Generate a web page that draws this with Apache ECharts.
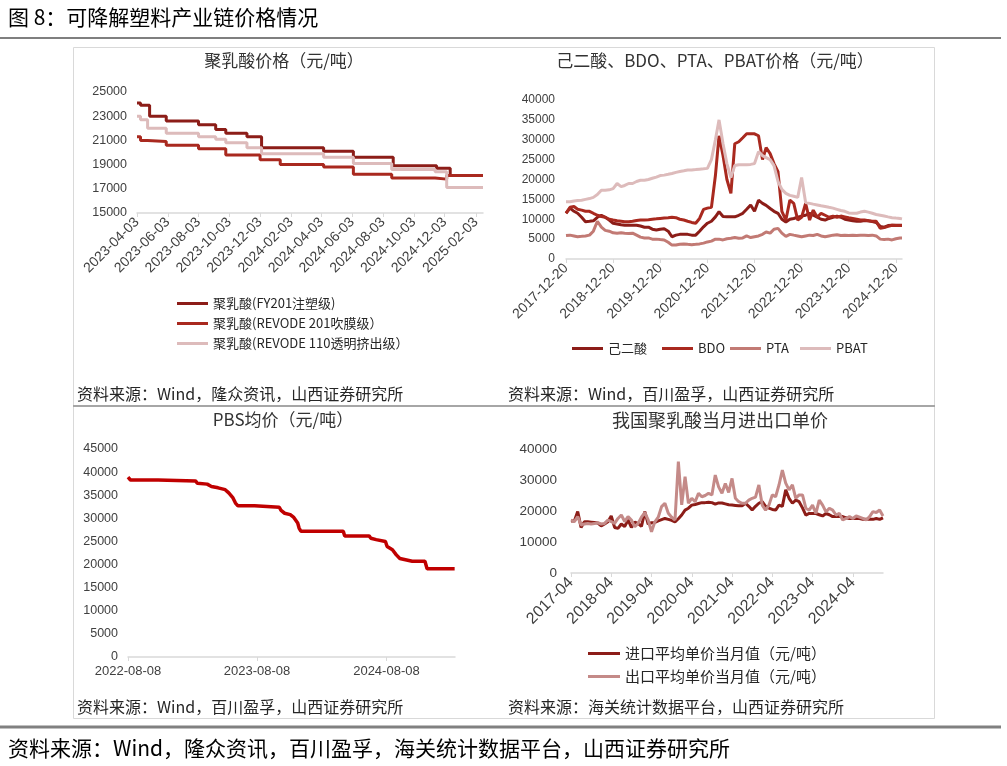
<!DOCTYPE html>
<html><head><meta charset="utf-8">
<script src="https://cdn.jsdelivr.net/npm/echarts@6/dist/echarts.min.js"></script>
<style>html,body{margin:0;padding:0;background:#fff;}#c{width:1007px;height:766px;}</style>
</head><body><div id="c"></div>
<script>
// ---------- Top-left: 聚乳酸价格 (step changes: date from which price applies) ----------
const tlFYDates = ['2023-04-03','2023-04-10','2023-04-28','2023-05-31','2023-08-03','2023-09-06','2023-09-26','2023-11-07','2023-12-06','2024-04-07','2024-06-05','2024-08-23','2024-11-17','2024-12-14','2025-02-17'];
const tlFYValues = [24100,23900,23000,22600,22300,21900,21600,21300,20400,20100,19600,18900,18700,18100,18100];
const tl201Dates = ['2023-04-03','2023-04-10','2023-04-24','2023-05-31','2023-08-03','2023-09-26','2023-12-03','2024-01-12','2024-04-07','2024-06-05','2024-08-20','2024-11-14','2024-12-07','2025-02-17'];
const tl201Values = [21300,21000,20900,20600,20300,19800,19400,19000,18800,18200,17900,17800,18100,18100];
const tl110Dates = ['2023-04-03','2023-04-10','2023-04-24','2023-05-31','2023-08-03','2023-09-06','2023-09-26','2023-11-07','2023-12-06','2024-04-07','2024-06-05','2024-08-20','2024-11-14','2024-12-07','2025-02-17'];
const tl110Values = [23000,22700,22000,21600,21300,21100,20800,20400,19900,19600,19100,18600,18400,17100,17100];
const tlTickDates = ['2023-04-03','2023-06-03','2023-08-03','2023-10-03','2023-12-03','2024-02-03','2024-04-03','2024-06-03','2024-08-03','2024-10-03','2024-12-03','2025-02-03'];
const tlNames = ['聚乳酸(FY201注塑级)','聚乳酸(REVODE 201吹膜级）','聚乳酸(REVODE 110透明挤出级）'];

// ---------- Top-right: 己二酸、BDO、PTA、PBAT (monthly, 2017-12 .. 2025-01, + 2025-02-05) ----------
const trDates = (function(){const a=['2017-12-20'];for(let y=2018;y<=2024;y++){for(let m=1;m<=12;m++){a.push(y+'-'+String(m).padStart(2,'0')+'-20');}}a.push('2025-01-20');a.push('2025-02-05');return a;})();
const trAdipic = [11500,
 12800,12000,11500,10500,9400,9500,9600,10500,11000,10500,9800,9000,
 8800,8600,8500,8500,8500,8500,8300,8000,8000,7500,7300,7500,
 7600,7000,5600,6000,6200,6200,6200,6000,6000,7000,8100,9000,
 9500,10600,11900,10700,10600,10600,10600,11000,11500,12500,13600,12000,
 14800,14000,13500,12700,12000,11500,10000,9300,10000,10200,10500,10800,
 11000,11500,11000,10500,10000,9800,10200,10500,10800,10500,10000,9800,
 9600,9500,9500,9700,9600,9400,9200,8200,8000,8400,8500,8500,
 8500,8500];
const trBDO = [11500,
 13000,13200,12500,12300,12000,12000,11500,11000,10700,10500,10000,9800,
 9600,9500,9400,9400,9500,9700,9800,9800,9900,10000,10100,10200,
 10300,10400,10500,10400,10000,9800,9500,9200,9000,10200,12500,12800,
 13000,21000,31000,26000,20000,16500,29000,29500,30500,31500,31500,31500,
 31000,25000,28000,26500,24000,22000,12000,9800,14800,14000,9800,10500,
 14000,9800,12300,10500,11500,11000,10500,10800,10500,10800,10600,10400,
 10200,10000,9800,9800,9600,9500,9500,7700,7900,8200,8500,8400,
 8400,8400];
const trPTA = [5900,
 6000,5800,5600,5700,5800,6000,7000,9500,8000,7200,7000,6600,
 6500,6600,6500,6400,6500,6000,5500,5300,5300,5000,5000,4900,
 4800,4200,3500,3500,3700,3800,3700,3600,3700,3800,4000,4300,
 4500,5000,5000,4800,5100,5200,5400,5200,5300,5800,5400,5600,
 5800,6200,6800,6500,7500,7700,6500,5700,6200,6000,5800,5600,
 5800,6000,5900,6200,5800,5600,5800,6000,6100,5900,6000,5900,
 6000,5900,6000,6000,5900,6000,5800,5000,4900,5000,4800,5100,
 5300,5300];
const trPBAT = [14400,
 14400,14600,14700,14800,15000,15200,15500,16200,17300,17300,17400,17700,
 19000,18200,18500,19000,19000,19500,19800,19800,20000,20300,20600,21000,
 21100,21300,21500,21800,22000,22200,22400,22400,22500,22600,22700,22800,
 25000,30000,35000,29000,24000,20500,23500,23700,23700,23700,23800,24000,
 27000,26000,25500,25000,23500,19500,17500,16500,16000,15800,15500,20500,
 14200,14000,13800,13600,13400,13200,13000,12800,12500,12200,12000,11600,
 11500,11500,11800,12000,11800,11500,11200,11000,10800,10600,10400,10300,
 10200,10100];
const trTickDates = ['2017-12-20','2018-12-20','2019-12-20','2020-12-20','2021-12-20','2022-12-20','2023-12-20','2024-12-20'];
const trNames = ['己二酸','BDO','PTA','PBAT'];

// ---------- Bottom-left: PBS均价 ----------
const blDates = ['2022-08-08','2022-08-15','2022-11-01','2022-11-05','2023-02-15','2023-02-20','2023-03-20','2023-04-01','2023-04-20','2023-05-10','2023-05-20','2023-06-01','2023-06-08','2023-06-15','2023-08-01','2023-08-05','2023-10-10','2023-10-15','2023-10-25','2023-11-10','2023-11-20','2023-12-01','2023-12-05','2023-12-10','2024-04-08','2024-04-12','2024-06-20','2024-06-25','2024-07-10','2024-08-05','2024-08-10','2024-08-25','2024-09-05','2024-09-15','2024-09-20','2024-10-20','2024-11-25','2024-12-01','2025-02-17'];
const blValues = [38900,38300,38300,38100,38100,37600,37400,36900,36600,36200,35500,34400,33300,32700,32700,32400,32400,31700,31100,30800,30200,29000,27900,27200,27200,26200,26200,25700,25400,25000,23900,23200,22100,21300,20900,20700,20700,19100,19100];
const blTickDates = ['2022-08-08','2023-08-08','2024-08-08'];

// ---------- Bottom-right: 我国聚乳酸当月进出口单价 (monthly 2017-04 .. 2025-01) ----------
const brMonths = (function(){const a=[];for(let y=2017;y<=2025;y++){for(let m=1;m<=12;m++){if(y===2017&&m<4)continue;if(y===2025&&m>1)break;a.push(y+'-'+String(m).padStart(2,'0'));}}return a;})();
const brImport = [16800,16800,19800,14700,16500,16500,16400,16300,16100,15200,15800,16500,
 18400,14700,14400,15800,15000,17100,14700,16400,16000,15000,19800,15800,
 16200,16300,16800,17200,17600,17300,17000,16500,17500,18700,20300,20900,
 21900,22100,22400,22700,22700,22800,22700,22200,22600,22600,22300,22000,
 21900,21800,21700,21700,22500,21500,20300,21500,22500,23000,21500,20900,
 20500,20300,21900,21500,26800,24100,22500,23500,23000,21000,18700,19200,
 19200,19200,18800,18400,19200,18800,18200,18200,18200,18200,17800,17600,
 17600,17600,17600,17300,17300,17300,17300,17600,17300,17800];
const brExport = [17100,16600,18200,15500,15800,16000,15800,16000,16200,15800,16000,17100,
 16600,16000,17600,18700,16600,18200,17100,14900,16000,18000,19500,17100,
 13300,16500,18000,21400,22500,19300,18000,17100,35900,22000,31100,22500,
 24100,23000,25700,24600,25000,25700,25200,31600,27800,25700,28900,26000,
 30500,24100,23000,22500,22500,23500,24100,24500,28400,21900,20300,21900,
 25200,24600,28400,33200,29000,26800,28400,24100,25200,25200,20900,20300,
 21900,19200,23500,21900,19700,20900,20300,18700,19200,17100,17600,18200,
 17600,18400,18000,17600,17100,18200,19800,19500,20300,18400];
const brNames = ['进口平均单价当月值（元/吨）','出口平均单价当月值（元/吨）'];

// ---------- colours ----------
const C_DARK = '#8C1D18', C_RED = '#A9291F', C_ROSE = '#C27A74', C_PINK = '#DDBBBB', C_PBS = '#C00000', C_EXP = '#C48A88';

const P = s => { const p = s.split('-').map(Number); return new Date(p[0], p[1] - 1, p[2]).getTime(); };
const pair = (d, v) => d.map((x, i) => [P(x), v[i]]);
const pad = n => String(n).padStart(2, '0');
const fmtDay = v => { const d = new Date(v); return d.getFullYear() + '-' + pad(d.getMonth() + 1) + '-' + pad(d.getDate()); };

const FONT = 'Liberation Sans, Arial, sans-serif';
const CJK = '"Noto Sans CJK SC", sans-serif';
const axisGray = '#D9D9D9';
const lbl = { color: '#404040', fontFamily: FONT };

function yAxis(grid, min, max, interval, size, margin) {
  return { type: 'value', gridIndex: grid, min, max, interval,
    axisLine: { show: false }, axisTick: { show: false }, splitLine: { show: false },
    axisLabel: Object.assign({ fontSize: size, margin, formatter: v => String(v) }, lbl) };
}
function dateAxis(grid, minD, maxD, ticks, size, rotate) {
  const cv = ticks.map(P);
  return { type: 'value', gridIndex: grid, min: P(minD), max: P(maxD), scale: true,
    axisLine: { show: true, onZero: false, lineStyle: { color: axisGray, width: 1.5 } }, splitLine: { show: false },
    axisTick: { show: true, length: 4, lineStyle: { color: axisGray }, customValues: cv },
    axisLabel: Object.assign({ fontSize: size, rotate: rotate, margin: rotate ? 7 : 8, customValues: cv, formatter: v => fmtDay(v) }, lbl) };
}
function line(name, data, color, x, y, width, step) {
  const s = { name, type: 'line', xAxisIndex: x, yAxisIndex: y, data, showSymbol: false, symbol: 'none',
    lineStyle: { color, width }, itemStyle: { color }, animation: false, emphasis: { disabled: true } };
  if (step) s.step = step;
  return s;
}
function legend(names, left, top, orient, gap, size, w) {
  return { data: names, left, top, orient, itemGap: gap, itemWidth: w, itemHeight: 3, icon: 'rect',
    selectedMode: false, textStyle: { fontSize: size, color: '#262626', fontFamily: CJK } };
}
function text(t, x, y, size, align, color) {
  return { type: 'text', x, y, silent: true,
    style: { text: t, fill: color || '#262626', font: size + 'px ' + CJK, textAlign: align || 'left', textVerticalAlign: 'middle' } };
}

const chart = echarts.init(document.getElementById('c'));
const option = {
  animation: false,
  backgroundColor: '#fff',
  grid: [
    { left: 137, top: 92, width: 346, height: 121, containLabel: false },
    { left: 566, top: 100, width: 336, height: 159, containLabel: false },
    { left: 128, top: 449, width: 327, height: 208, containLabel: false },
    { left: 571, top: 449, width: 312, height: 124, containLabel: false }
  ],
  xAxis: [
    dateAxis(0, '2023-04-03', '2025-02-17', tlTickDates, 14, 45),
    dateAxis(1, '2017-12-20', '2025-02-05', trTickDates, 14, 45),
    dateAxis(2, '2022-08-08', '2025-02-18', blTickDates, 13, 0),
    { type: 'category', gridIndex: 3, data: brMonths, boundaryGap: false,
      axisLine: { lineStyle: { color: axisGray, width: 1.5 } }, splitLine: { show: false },
      axisTick: { show: true, length: 4, interval: 11, lineStyle: { color: axisGray } },
      axisLabel: Object.assign({ fontSize: 16, rotate: 45, margin: 7, interval: 11 }, lbl) }
  ],
  yAxis: [
    yAxis(0, 15000, 25000, 2000, 12.5, 10),
    yAxis(1, 0, 40000, 5000, 12, 11),
    yAxis(2, 0, 45000, 5000, 12.5, 10),
    yAxis(3, 0, 40000, 10000, 13.5, 14)
  ],
  legend: [
    legend(tlNames, 172, 292, 'vertical', 7, 13, 31),
    legend([trNames[0]], 567, 337, 'horizontal', 0, 13, 31),
    legend([trNames[1]], 657, 337, 'horizontal', 0, 13, 31),
    legend([trNames[2]], 725, 337, 'horizontal', 0, 13, 31),
    legend([trNames[3]], 795, 337, 'horizontal', 0, 13, 31),
    legend(brNames, 583, 641, 'vertical', 8, 15, 32)
  ],
  series: [
    line(tlNames[0], pair(tlFYDates, tlFYValues), C_DARK, 0, 0, 3, 'end'),
    line(tlNames[1], pair(tl201Dates, tl201Values), C_RED, 0, 0, 3, 'end'),
    line(tlNames[2], pair(tl110Dates, tl110Values), C_PINK, 0, 0, 3, 'end'),
    line(trNames[0], pair(trDates, trAdipic), C_DARK, 1, 1, 3),
    line(trNames[1], pair(trDates, trBDO), C_RED, 1, 1, 3),
    line(trNames[2], pair(trDates, trPTA), C_ROSE, 1, 1, 3),
    line(trNames[3], pair(trDates, trPBAT), C_PINK, 1, 1, 3),
    line('PBS均价', pair(blDates, blValues), C_PBS, 2, 2, 3.5),
    line(brNames[0], brImport, C_DARK, 3, 3, 3),
    line(brNames[1], brExport, C_EXP, 3, 3, 3)
  ],
  graphic: [
    text('图 8：可降解塑料产业链价格情况', 8, 17, 21, 'left', '#000'),
    { type: 'line', silent: true, shape: { x1: 0, y1: 38, x2: 1001, y2: 38 }, style: { stroke: '#000', lineWidth: 1.2 } },
    { type: 'rect', silent: true, shape: { x: 73.5, y: 47.5, width: 861, height: 671 }, style: { fill: 'none', stroke: '#D9D9D9', lineWidth: 1 } },
    { type: 'line', silent: true, shape: { x1: 73, y1: 406, x2: 935, y2: 406 }, style: { stroke: '#A6A6A6', lineWidth: 2 } },
    { type: 'line', silent: true, shape: { x1: 0, y1: 727, x2: 1001, y2: 727 }, style: { stroke: '#808080', lineWidth: 3 } },
    text('资料来源：Wind，隆众资讯，百川盈孚，海关统计数据平台，山西证券研究所', 8, 748, 21, 'left', '#000'),
    text('聚乳酸价格（元/吨）', 284, 61, 17, 'center', '#333'),
    text('己二酸、BDO、PTA、PBAT价格（元/吨）', 715, 61, 17, 'center', '#333'),
    text('PBS均价（元/吨）', 283, 420, 17, 'center', '#333'),
    text('我国聚乳酸当月进出口单价', 720, 420, 18, 'center', '#333'),
    text('资料来源：Wind，隆众资讯，山西证券研究所', 77, 394, 16, 'left', '#262626'),
    text('资料来源：Wind，百川盈孚，山西证券研究所', 508, 394, 16, 'left', '#262626'),
    text('资料来源：Wind，百川盈孚，山西证券研究所', 77, 707, 16, 'left', '#262626'),
    text('资料来源：海关统计数据平台，山西证券研究所', 508, 707, 16, 'left', '#262626')
  ]
};
chart.setOption(option);
</script>
</body></html>
